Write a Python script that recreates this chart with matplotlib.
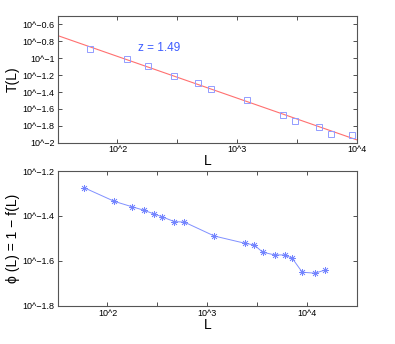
import matplotlib
matplotlib.use('Agg')
import matplotlib.pyplot as plt
import numpy as np

matplotlib.rcParams['font.family'] = ['Liberation Sans', 'DejaVu Sans']
matplotlib.rcParams['xtick.direction'] = 'in'
matplotlib.rcParams['ytick.direction'] = 'in'

# top panel: T(L) vs L, log10 values
logL_T = [1.774, 2.078, 2.255, 2.475, 2.675, 2.779, 3.079, 3.380, 3.477, 3.680, 3.780, 3.956]
logT = [-0.894, -1.008, -1.096, -1.207, -1.298, -1.370, -1.489, -1.671, -1.738, -1.810, -1.893, -1.908]
fit_slope = -0.495
fit_icpt = 0.0115
fit_label = "z = 1.49"

# bottom panel: phi(L) = 1 - f(L)
logL_phi = [1.765, 2.069, 2.246, 2.369, 2.466, 2.549, 2.669, 2.769, 3.069, 3.373,
            3.469, 3.553, 3.673, 3.773, 3.849, 3.949, 4.076, 4.173]
logphi = [-1.274, -1.335, -1.359, -1.375, -1.391, -1.404, -1.425, -1.427, -1.489, -1.521,
          -1.529, -1.561, -1.573, -1.573, -1.588, -1.650, -1.654, -1.641]


def powlabel(v):
    s = f"{v:g}".replace('-', '\u2212')
    return "10^" + s


def style(ax):
    ax.tick_params(top=True, right=True, length=3, width=0.6, labelsize=6.5, colors='#333333',
                   labelcolor='black', pad=2)
    for sp in ax.spines.values():
        sp.set_color('#555555')
        sp.set_linewidth(0.8)


fig = plt.figure(figsize=(3.95, 3.44), dpi=100)

ax1 = fig.add_axes([0.1456, 0.5852, 0.759, 0.3683])
xfit = np.array([1.5, 4.0])
ax1.plot(xfit, fit_slope * xfit + fit_icpt, color='#ff7070', lw=0.8)
ax1.plot(logL_T, logT, ls='none', marker='s', mfc='none', mec='#929cff', ms=4.2, mew=0.7)
ax1.text(2.17, -0.874, fit_label, color='#3d5cff', fontsize=8.5, va='center')
ax1.set_xlim(1.5, 4.0)
ax1.set_ylim(-2.0, -0.5)
xt = np.arange(1.5, 4.01, 0.5)
ax1.set_xticks(xt)
ax1.set_xticklabels([powlabel(v) if v == int(v) else '' for v in xt])
yt = np.round(np.arange(-2.0, -0.59, 0.2), 1)
ax1.set_yticks(yt)
ax1.set_yticklabels([powlabel(v) for v in yt])
ax1.set_xlabel("L", fontsize=10, labelpad=0)
ax1.set_ylabel("T(L)", fontsize=10, labelpad=2)
style(ax1)

ax2 = fig.add_axes([0.1456, 0.1105, 0.759, 0.3924])
ax2.plot(logL_phi, logphi, color='#8090ff', lw=0.7, marker=(8, 2, 0), ms=5, mec='#7485ff', mew=0.5)
ax2.set_xlim(1.5, 4.5)
ax2.set_ylim(-1.8, -1.2)
xt2 = np.arange(1.5, 4.51, 0.5)
ax2.set_xticks(xt2)
ax2.set_xticklabels([powlabel(v) if v == int(v) else '' for v in xt2])
yt2 = np.round(np.arange(-1.8, -1.19, 0.2), 1)
ax2.set_yticks(yt2)
ax2.set_yticklabels([powlabel(v) for v in yt2])
ax2.set_xlabel("L", fontsize=10, labelpad=0)
ax2.set_ylabel("\u03d5 (L) = 1 \u2212 f(L)", fontsize=10, labelpad=2)
style(ax2)

fig.savefig("out.png", dpi=100)
